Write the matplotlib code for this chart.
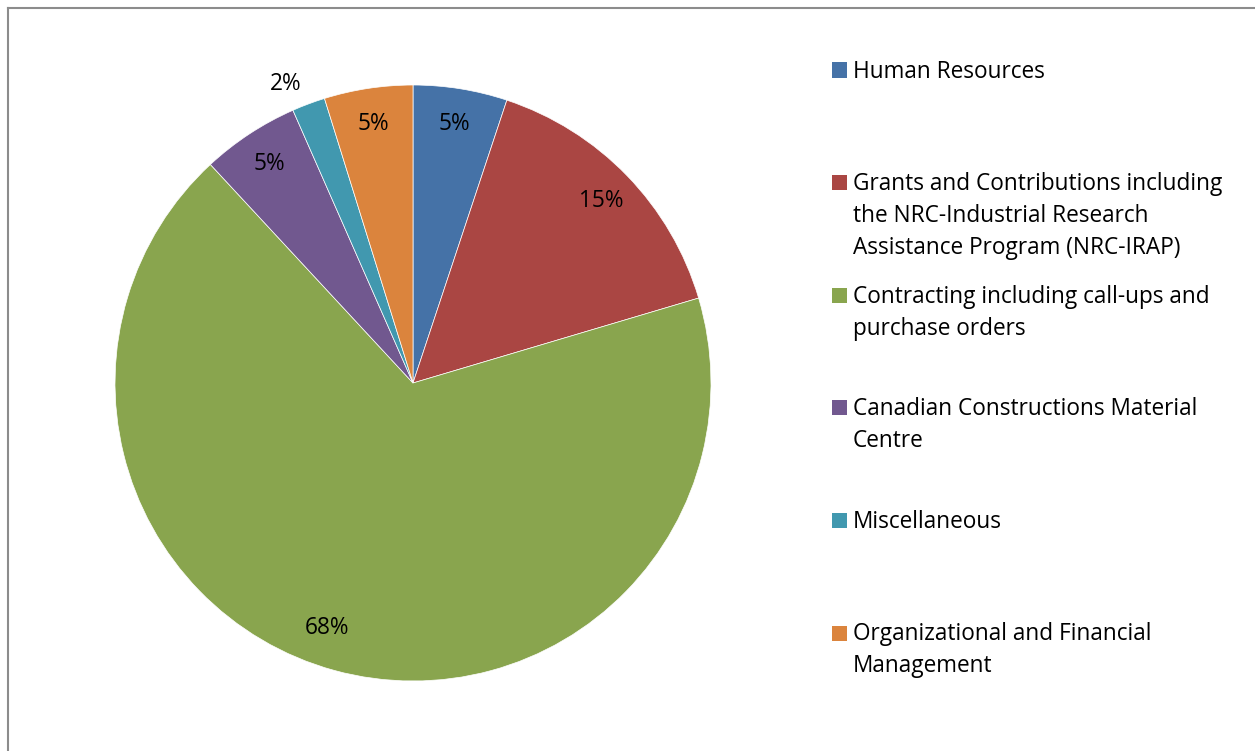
import matplotlib
matplotlib.use("Agg")
import matplotlib.pyplot as plt
from matplotlib.patches import Rectangle
from matplotlib.lines import Line2D
import numpy as np

categories = [
    "Human Resources",
    "Grants and Contributions including\nthe NRC-Industrial Research\nAssistance Program (NRC-IRAP)",
    "Contracting including call-ups and\npurchase orders",
    "Canadian Constructions Material\nCentre",
    "Miscellaneous",
    "Organizational and Financial\nManagement",
]
values = [5.1, 15.3, 67.7, 5.3, 1.8, 4.8]
pct_labels = ["5%", "15%", "68%", "5%", "2%", "5%"]
colors = ["#4572A7", "#AA4643", "#89A54E", "#71588F", "#4198AF", "#DB843D"]

W, H = 1255, 751
fig = plt.figure(figsize=(W / 100, H / 100), dpi=100)
FONT = "Open Sans"
FS = 16.3

# frame (top and left edges visible)
fig.add_artist(Line2D([8 / W, 1.0], [1 - 8 / H, 1 - 8 / H], transform=fig.transFigure,
                      color="#8c8c8c", lw=1.5))
fig.add_artist(Line2D([8 / W, 8 / W], [1 - 8 / H, 0], transform=fig.transFigure,
                      color="#8c8c8c", lw=1.5))

cx, cy, r = 413, 383, 298
ax = fig.add_axes([(cx - r) / W, (H - cy - r) / H, 2 * r / W, 2 * r / H])
wedges, _ = ax.pie(values, colors=colors, startangle=90, counterclock=False,
                   radius=1.0, wedgeprops=dict(linewidth=0.5, edgecolor="white"))
ax.set_xlim(-1, 1)
ax.set_ylim(-1, 1)
ax.set_aspect("equal")
ax.axis("off")

for w, lab, v in zip(wedges, pct_labels, values):
    mid = (w.theta1 + w.theta2) / 2
    if v < 3:
        ang, d = np.deg2rad(mid + 2.5), 1.09
    elif v > 50:
        ang, d = np.deg2rad(mid - 4), 0.87
    else:
        ang, d = np.deg2rad(mid), 0.88
    ax.text(d * np.cos(ang), d * np.sin(ang), lab, ha="center", va="center",
            fontsize=FS, family=FONT, color="black")

# legend
x_sq, x_txt = 832, 853
y0, dy, line_h = 70, 112.6, 32
for i, (lab, col) in enumerate(zip(categories, colors)):
    yc = y0 + i * dy
    fig.add_artist(Rectangle((x_sq / W, 1 - (yc + 7.5) / H), 15 / W, 15 / H,
                             transform=fig.transFigure, facecolor=col, edgecolor="none"))
    for j, line in enumerate(lab.split("\n")):
        fig.text(x_txt / W, 1 - (yc + 1.5 + j * line_h) / H, line, ha="left", va="center",
                 fontsize=FS, family=FONT, color="black")

fig.savefig("out.png", dpi=100, facecolor="white")
